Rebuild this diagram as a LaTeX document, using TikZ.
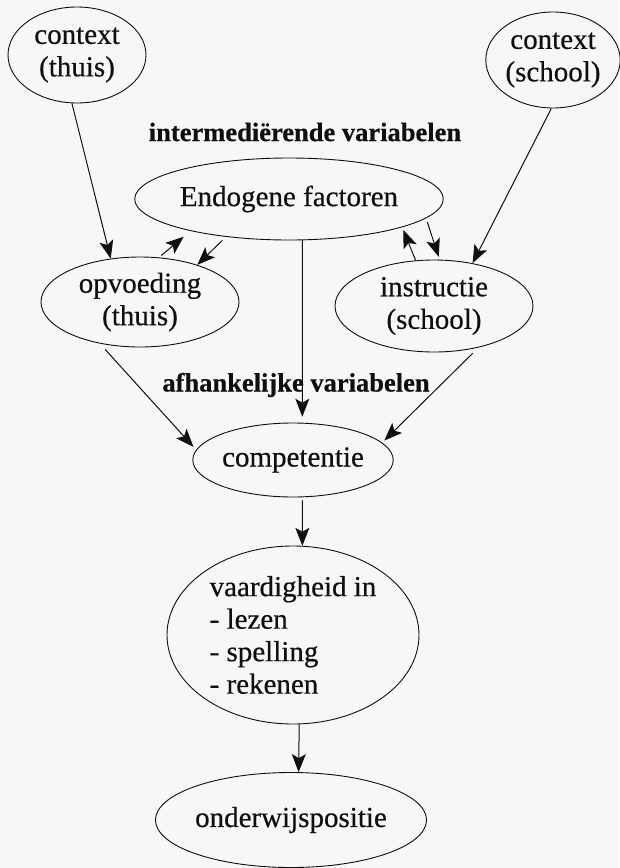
\documentclass[tikz,border=0pt]{standalone}
\usepackage{fontspec}
\setmainfont{Liberation Serif}[FakeBold=0.45]
\usetikzlibrary{shapes.geometric,arrows.meta}
\definecolor{paper}{RGB}{247,247,247}
\definecolor{ink}{RGB}{15,15,15}
\tikzset{
  ell/.style={draw=ink, ellipse, line width=0.9pt, inner sep=0pt, align=center,
    text=ink, font=\fontsize{29}{32.5}\selectfont},
  lbl/.style={font=\fontsize{26.5}{30}\selectfont\bfseries, inner sep=0pt, text=ink},
  arr/.style={draw=ink, line width=1pt, -{Stealth[length=18pt,width=14pt,inset=4pt]}}
}
\begin{document}
\begin{tikzpicture}[x=1pt,y=-1pt]
\fill[paper] (0,0) rectangle (619,868);
\useasboundingbox (0,0) rectangle (619,868);

\node[ell, minimum width=138pt, minimum height=96pt] (c1) at (77,55) {context\\(thuis)};
\node[ell, minimum width=128pt, minimum height=96pt] (c2) at (553,60) {context\\(school)};
\node[ell, minimum width=280pt, minimum height=82pt] (endo) at (289,199) {Endogene factoren};
\node[ell, minimum width=198pt, minimum height=90pt] (opv) at (140,302) {opvoeding\\(thuis)};
\node[ell, minimum width=198pt, minimum height=92pt] (ins) at (434,306) {instructie\\(school)};
\node[ell, minimum width=200pt, minimum height=74pt] (comp) at (293,460) {competentie};
\node[ell, minimum width=252pt, minimum height=178pt, align=left] (vaar) at (293,635)
  {vaardigheid in\\- lezen\\- spelling\\- rekenen};
\node[ell, minimum width=244pt, minimum height=95pt] (ond) at (291,820) {onderwijspositie};

\node[lbl] (l1) at (305,132) {intermedi\"erende variabelen};

\draw[arr] (c1.-96) -- (opv.124);
\draw[arr] (c2.-92) -- (ins.48);
\draw[arr, shorten <=5pt] (endo.211) -- (opv.33.5);
\draw[arr, shorten <=3pt, shorten >=9pt] (opv.67) -- (endo.198);
\draw[arr, shorten >=3pt] (ins.112) -- (endo.-14);
\draw[arr, shorten <=4pt, shorten >=3pt] (endo.-8) -- (ins.83);
\draw[arr, shorten >=6pt] (endo.-72.4) -- (comp.76.3);
\draw[arr, shorten <=8pt, shorten >=4pt] (opv.-134) -- (comp.174.8);
\draw[arr, shorten <=8pt, shorten >=3pt] (ins.-43.2) -- (comp.11.5);
\draw[arr, shorten <=3pt] (comp.-76.3) -- (vaar.84.2);
\draw[arr] (vaar.-86.8) -- (ond.81.7);

\node[lbl] (l2) at (296,385) {afhankelijke variabelen};
\end{tikzpicture}
\end{document}
